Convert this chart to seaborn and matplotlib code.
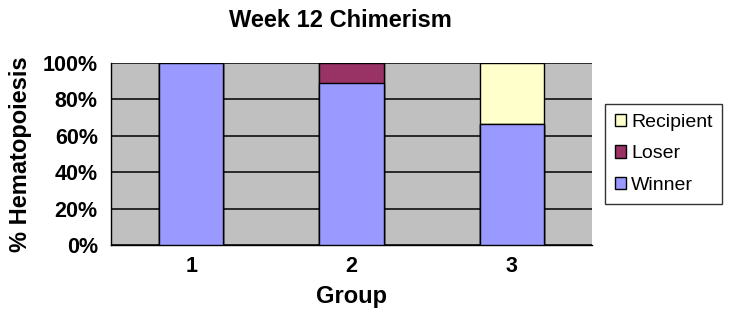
import numpy as np
import pandas as pd
import matplotlib
matplotlib.use("Agg")
import matplotlib.pyplot as plt
import seaborn as sns
from matplotlib.patches import Patch

groups = ["1", "2", "3"]
winner = [100, 89, 66.5]
loser = [0, 11, 0]
recipient = [0, 0, 33.5]

colors = {"Winner": "#9999FF", "Loser": "#993366", "Recipient": "#FFFFCC"}

sns.set_style("white")
plt.rcParams["font.family"] = ["Liberation Sans", "DejaVu Sans"]
plt.rcParams["text.color"] = "black"
plt.rcParams["axes.labelcolor"] = "black"
plt.rcParams["xtick.color"] = "black"
plt.rcParams["ytick.color"] = "black"

df = pd.DataFrame({"Group": groups, "Winner": winner, "Loser": loser, "Recipient": recipient})
df["WL"] = df["Winner"] + df["Loser"]
df["Total"] = df["WL"] + df["Recipient"]

fig = plt.figure(figsize=(7.29, 3.22), dpi=100)
ax = fig.add_axes([111 / 729, 1 - 245 / 322, 481 / 729, 182 / 322])
ax.set_facecolor("#C0C0C0")

# stacked bars: draw cumulative totals from the top down
sns.barplot(data=df, x="Group", y="Total", color=colors["Recipient"], width=0.4,
            edgecolor="black", linewidth=1, saturation=1, ax=ax, zorder=3)
sns.barplot(data=df, x="Group", y="WL", color=colors["Loser"], width=0.4,
            edgecolor="black", linewidth=1, saturation=1, ax=ax, zorder=3)
sns.barplot(data=df, x="Group", y="Winner", color=colors["Winner"], width=0.4,
            edgecolor="black", linewidth=1, saturation=1, ax=ax, zorder=3)

ax.set_xlim(-0.5, 2.5)
ax.set_ylim(0, 100)
ax.set_yticks(np.arange(0, 101, 20))
ax.set_yticklabels([f"{v}%" for v in range(0, 101, 20)], fontsize=15.5, fontweight="bold")
ax.set_xticks(range(3))
ax.set_xticklabels(groups, fontsize=15.5, fontweight="bold")
ax.set_xticks([-0.5, 0.5, 1.5, 2.5], minor=True)
ax.tick_params(axis="x", which="major", length=0, pad=8)
ax.tick_params(axis="x", which="minor", length=5, width=1, color="black", direction="out")
ax.tick_params(axis="y", length=4.5, width=1, color="black", direction="out", pad=5)
ax.yaxis.grid(True, color="black", linewidth=1.1)
ax.set_axisbelow(True)
for s in ["top", "right"]:
    ax.spines[s].set_visible(False)
for s in ["left", "bottom"]:
    ax.spines[s].set_color("black")
    ax.spines[s].set_linewidth(1)

ax.set_xlabel("Group", fontsize=17, fontweight="bold", labelpad=6)
ax.set_ylabel("% Hematopoiesis", fontsize=17, fontweight="bold", labelpad=8)
fig.text(340 / 729, 1 - 27 / 322, "Week 12 Chimerism", fontsize=17, fontweight="bold",
         ha="center", va="baseline")

handles = [Patch(facecolor=colors[k], edgecolor="black", label=k) for k in ["Recipient", "Loser", "Winner"]]
fig.legend(handles=handles, loc="upper left", bbox_to_anchor=(605 / 729, 1 - 104 / 322),
           frameon=True, fancybox=False, edgecolor="black", fontsize=14,
           handlelength=0.6, handleheight=0.6, handletextpad=0.25, labelspacing=0.75,
           borderpad=0.5, borderaxespad=0)

fig.savefig("out.png", dpi=100, facecolor="white")
